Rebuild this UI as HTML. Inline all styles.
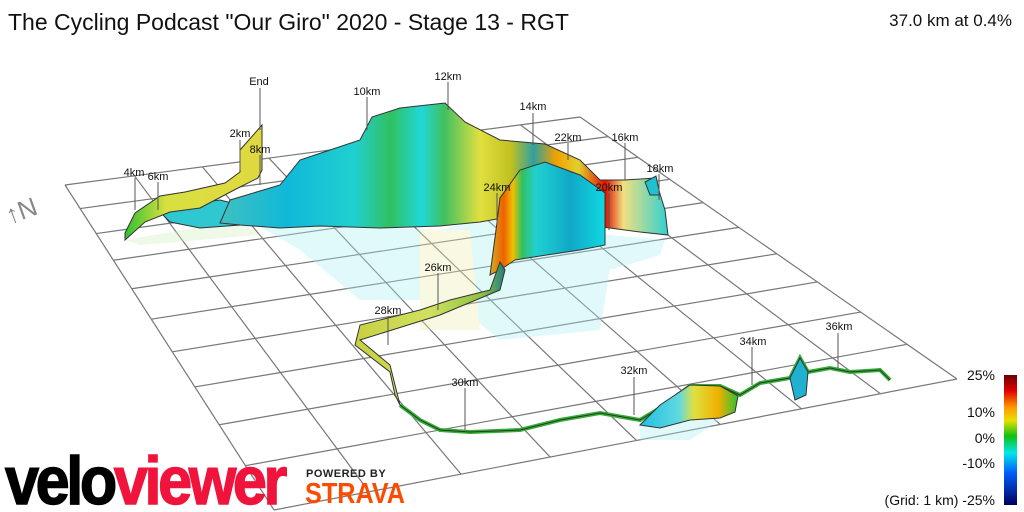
<!DOCTYPE html>
<html><head><meta charset="utf-8"><style>
body{margin:0;background:#fff;width:1024px;height:512px;overflow:hidden;font-family:"Liberation Sans",sans-serif}
svg{position:absolute;left:0;top:0}
</style></head><body>
<svg id="s" width="1024" height="512" viewBox="0 0 1024 512">
<defs>
<linearGradient id="cb" x1="0" y1="0" x2="0" y2="1">
<stop offset="0" stop-color="#6b0000"/><stop offset="0.12" stop-color="#e00000"/><stop offset="0.25" stop-color="#ff9900"/><stop offset="0.35" stop-color="#e8e000"/><stop offset="0.47" stop-color="#10c010"/><stop offset="0.6" stop-color="#00e8e8"/><stop offset="0.75" stop-color="#0060ff"/><stop offset="1" stop-color="#000060"/></linearGradient>
<linearGradient id="w1" x1="0" x2="1"><stop offset="0" stop-color="#30c030"/><stop offset="0.3" stop-color="#d8e040"/><stop offset="1" stop-color="#e0d840"/></linearGradient>
<linearGradient id="w2" x1="0" x2="1">
<stop offset="0" stop-color="#40c0c0"/><stop offset="0.15" stop-color="#10b8d8"/><stop offset="0.3" stop-color="#20d0d0"/><stop offset="0.38" stop-color="#30c060"/><stop offset="0.45" stop-color="#20d8d8"/><stop offset="0.5" stop-color="#40c060"/><stop offset="0.58" stop-color="#e0e040"/><stop offset="0.65" stop-color="#c0c020"/><stop offset="0.7" stop-color="#30a0a0"/><stop offset="0.75" stop-color="#f0a000"/><stop offset="0.8" stop-color="#e0d030"/><stop offset="0.86" stop-color="#e01000"/><stop offset="0.9" stop-color="#f0e080"/><stop offset="1" stop-color="#30d0d0"/></linearGradient>
<linearGradient id="w3" x1="0" x2="1"><stop offset="0" stop-color="#d0b020"/><stop offset="0.12" stop-color="#f06000"/><stop offset="0.2" stop-color="#f0c000"/><stop offset="0.28" stop-color="#30c060"/><stop offset="0.4" stop-color="#20d0d0"/><stop offset="0.7" stop-color="#10a8c8"/><stop offset="1" stop-color="#10d8e0"/></linearGradient>
<linearGradient id="w4" x1="0" x2="1"><stop offset="0" stop-color="#c8d040"/><stop offset="0.5" stop-color="#d0e060"/><stop offset="0.85" stop-color="#90c040"/><stop offset="1" stop-color="#208080"/></linearGradient>
<linearGradient id="w5" x1="0" x2="1"><stop offset="0" stop-color="#20c0e0"/><stop offset="0.4" stop-color="#60d8e0"/><stop offset="0.55" stop-color="#e0e040"/><stop offset="0.8" stop-color="#f0b000"/><stop offset="1" stop-color="#30c030"/></linearGradient>
</defs>
<g id="grid" stroke="#777" stroke-width="1.2" fill="none"></g>
<g opacity="0.35">
<polygon points="240,215 300,225 440,230 500,215 560,225 610,235 665,240 660,255 610,270 600,330 500,340 450,300 360,300 300,250" fill="#a8eef0"/>
<polygon points="420,230 470,230 480,330 420,330" fill="#f0f0b0"/>
<polygon points="640,420 700,405 720,420 690,440 640,440" fill="#a8eef0"/>
<polygon points="125,240 240,220 260,235 140,245" fill="#d0f0c0"/>
</g>
<polygon points="160,212 180,205 220,200 240,205 240,225 200,228 170,222" fill="#30c8d0" stroke="#333" stroke-width="1"/>
<polygon points="125,233 135,213 160,196 185,192 225,183 240,172 240,150 262,125 262,170 258,178 238,188 200,208 170,212 145,222 125,240" fill="url(#w1)" stroke="#333" stroke-width="1"/>
<polygon points="230,200 280,185 300,160 330,150 360,140 372,117 400,108 445,103 465,122 500,140 545,144 580,160 600,180 625,180 655,178 665,210 668,235 640,232 610,228 560,222 520,215 480,222 440,226 380,228 320,226 280,228 240,225 220,223" fill="url(#w2)" stroke="#333" stroke-width="1"/>
<polygon points="496,230 500,198 520,170 545,162 580,175 605,193 605,245 580,250 540,256 515,260 500,270 490,275" fill="url(#w3)" stroke="#333" stroke-width="1"/>
<polygon points="500,262 490,290 450,300 420,310 360,325 355,345 390,372 395,395 400,405 390,365 360,340 440,315 500,290 505,270" fill="url(#w4)" stroke="#333" stroke-width="1"/>
<path d="M400,405 L420,420 440,430 470,432 520,430 560,420 600,413 640,420 660,408 690,386 720,386 740,395 760,383 790,378 800,358 808,372 830,368 850,372 880,370 890,380" fill="none" stroke="#30b030" stroke-width="4"/>
<path d="M400,405 L420,420 440,430 470,432 520,430 560,420 600,413 640,420 660,408 690,386 720,386 740,395 760,383 790,378 800,358 808,372 830,368 850,372 880,370 890,380" fill="none" stroke="#333" stroke-width="1"/>
<polygon points="640,425 660,405 690,385 720,386 738,396 735,412 720,418 690,420 660,428" fill="url(#w5)" stroke="#333" stroke-width="1"/>
<polygon points="790,378 800,358 808,372 806,395 795,400" fill="#20b0d0" stroke="#333" stroke-width="1"/>
<polygon points="645,182 656,176 660,195 650,195" fill="#20c0d0" stroke="#333" stroke-width="1"/>
<g stroke="#555" stroke-width="1">
<line x1="260" y1="88" x2="260" y2="130"/><line x1="240" y1="140" x2="240" y2="170"/><line x1="260" y1="155" x2="260" y2="185"/>
<line x1="135" y1="178" x2="135" y2="210"/><line x1="158" y1="182" x2="158" y2="210"/>
<line x1="367" y1="97" x2="367" y2="130"/><line x1="448" y1="82" x2="448" y2="110"/><line x1="533" y1="113" x2="533" y2="145"/>
<line x1="568" y1="143" x2="568" y2="160"/><line x1="625" y1="143" x2="625" y2="180"/><line x1="659" y1="174" x2="659" y2="200"/>
<line x1="609" y1="193" x2="609" y2="230"/><line x1="497" y1="193" x2="497" y2="225"/>
<line x1="438" y1="273" x2="438" y2="310"/><line x1="388" y1="316" x2="388" y2="345"/>
<line x1="465" y1="388" x2="465" y2="430"/><line x1="634" y1="377" x2="634" y2="415"/><line x1="752" y1="347" x2="752" y2="385"/><line x1="838" y1="333" x2="838" y2="368"/>
</g>
<g font-size="11" fill="#111" text-anchor="middle" font-family="Liberation Sans,sans-serif">
<text x="259" y="85">End</text><text x="240" y="137">2km</text><text x="260" y="153">8km</text>
<text x="134" y="176">4km</text><text x="158" y="180">6km</text><text x="367" y="95">10km</text><text x="448" y="80">12km</text>
<text x="533" y="110">14km</text><text x="568" y="141">22km</text><text x="625" y="141">16km</text><text x="660" y="172">18km</text>
<text x="609" y="191">20km</text><text x="497" y="191">24km</text><text x="438" y="271">26km</text><text x="388" y="314">28km</text>
<text x="465" y="386">30km</text><text x="634" y="374">32km</text><text x="753" y="345">34km</text><text x="839" y="330">36km</text>
</g>
<text x="8" y="30" font-size="23" fill="#111">The Cycling Podcast "Our Giro" 2020 - Stage 13 - RGT</text>
<text x="1012" y="26" font-size="17" fill="#111" text-anchor="end">37.0 km at 0.4%</text>
<text x="5" y="220" font-size="26" fill="#888" transform="rotate(-20 20 210)">↑N</text>
<rect x="1004" y="375" width="13" height="130" fill="url(#cb)"/>
<g font-size="14" fill="#111" text-anchor="end">
<text x="995" y="380">25%</text><text x="995" y="417">10%</text><text x="995" y="443">0%</text><text x="995" y="468">-10%</text><text x="995" y="505">(Grid: 1 km) -25%</text>
</g>
<g transform="translate(5,504) scale(0.85,0.94)">
<text font-size="72" font-weight="bold" letter-spacing="-4" font-family="Liberation Sans,sans-serif" stroke-width="1.5"><tspan fill="#000" stroke="#000">velo</tspan><tspan fill="#f0143c" stroke="#f0143c">viewer</tspan></text>
</g>
<text x="306" y="477" font-size="11" font-weight="bold" fill="#222" letter-spacing="0.5">POWERED BY</text>
<text x="0" y="0" font-size="29" font-weight="bold" fill="#fc4c02" transform="translate(305,503) scale(0.87,1)">STRAVA</text>
</svg>
<script>
(function(){
var P=[[65,185],[580,117],[957,379],[274,510]];
var x0=P[0][0],y0=P[0][1],x1=P[1][0],y1=P[1][1],x2=P[2][0],y2=P[2][1],x3=P[3][0],y3=P[3][1];
var dx1=x1-x2,dx2=x3-x2,dy1=y1-y2,dy2=y3-y2,sx=x0-x1+x2-x3,sy=y0-y1+y2-y3;
var den=dx1*dy2-dx2*dy1;
var g=(sx*dy2-dx2*sy)/den,h=(dx1*sy-sx*dy1)/den;
var a=x1-x0+g*x1,b=x3-x0+h*x3,c=x0,d=y1-y0+g*y1,e=y3-y0+h*y3,f=y0;
function m(u,v){var w=g*u+h*v+1;return [(a*u+b*v+c)/w,(d*u+e*v+f)/w];}
var nu=8,nv=10,s='';
for(var i=0;i<=nu;i++){var p=m(i/nu,0),q=m(i/nu,1);s+='M'+p[0]+','+p[1]+'L'+q[0]+','+q[1];}
for(var j=0;j<=nv;j++){var p=m(0,j/nv),q=m(1,j/nv);s+='M'+p[0]+','+p[1]+'L'+q[0]+','+q[1];}
var pa=document.createElementNS('http://www.w3.org/2000/svg','path');pa.setAttribute('d',s);
document.getElementById('grid').appendChild(pa);
})();
</script>
</body></html>
